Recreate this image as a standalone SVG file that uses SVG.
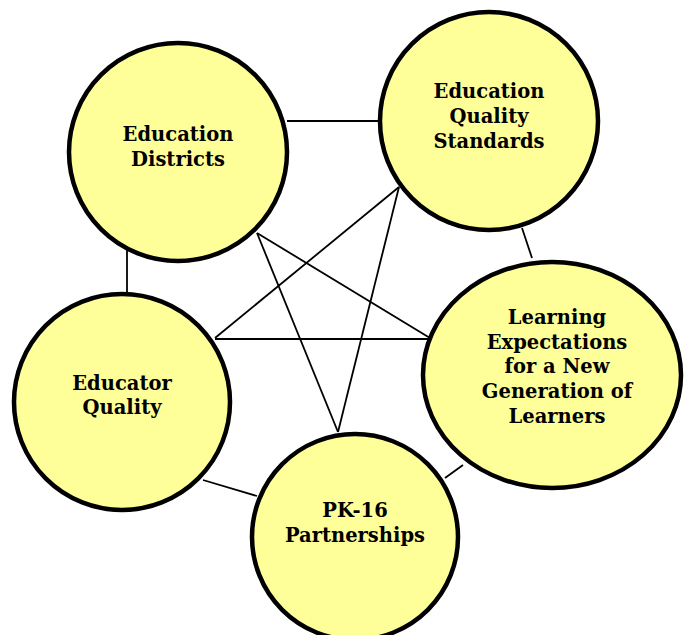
<svg xmlns="http://www.w3.org/2000/svg" width="685" height="635" viewBox="0 0 685 635">
<style>
.bg{fill:#ffffff}
.node{fill:#FFFF99;stroke:#000000;stroke-width:4.5}
.edge{stroke:#000000;stroke-width:1.8;fill:none}
.lbl{font-family:"DejaVu Serif","Liberation Serif",serif;font-weight:bold;font-size:19.5px;fill:#000000;text-anchor:middle}
</style>
<rect class="bg" x="0" y="0" width="685" height="635"/>
<g id="connectors">
<line class="edge" x1="287" y1="121" x2="378" y2="121"/>
<line class="edge" x1="127" y1="248" x2="127" y2="292"/>
<line class="edge" x1="257" y1="233" x2="430" y2="338"/>
<line class="edge" x1="257" y1="233" x2="338" y2="432"/>
<line class="edge" x1="399" y1="187" x2="215" y2="338"/>
<line class="edge" x1="399" y1="187" x2="338" y2="432"/>
<line class="edge" x1="522" y1="228" x2="532" y2="258"/>
<line class="edge" x1="215" y1="339" x2="428" y2="339"/>
<line class="edge" x1="203" y1="480" x2="257" y2="496"/>
<line class="edge" x1="445" y1="478" x2="463" y2="465"/>
</g>
<g id="education-districts">
<circle class="node" cx="178" cy="152" r="109"/>
<text class="lbl" x="178" y="141">Education</text>
<text class="lbl" x="178" y="166">Districts</text>
</g>
<g id="education-quality-standards">
<circle class="node" cx="489" cy="121" r="109"/>
<text class="lbl" x="489" y="98">Education</text>
<text class="lbl" x="489" y="123">Quality</text>
<text class="lbl" x="489" y="148">Standards</text>
</g>
<g id="educator-quality">
<circle class="node" cx="122" cy="402" r="108"/>
<text class="lbl" x="122" y="390">Educator</text>
<text class="lbl" x="122" y="414">Quality</text>
</g>
<g id="learning-expectations">
<ellipse class="node" cx="552" cy="375" rx="129" ry="113"/>
<text class="lbl" x="557" y="324">Learning</text>
<text class="lbl" x="557" y="349">Expectations</text>
<text class="lbl" x="557" y="373">for a New</text>
<text class="lbl" x="557" y="398">Generation of</text>
<text class="lbl" x="557" y="423">Learners</text>
</g>
<g id="pk16-partnerships">
<circle class="node" cx="355" cy="537" r="103"/>
<text class="lbl" x="355" y="517">PK-16</text>
<text class="lbl" x="355" y="542">Partnerships</text>
</g>
</svg>
